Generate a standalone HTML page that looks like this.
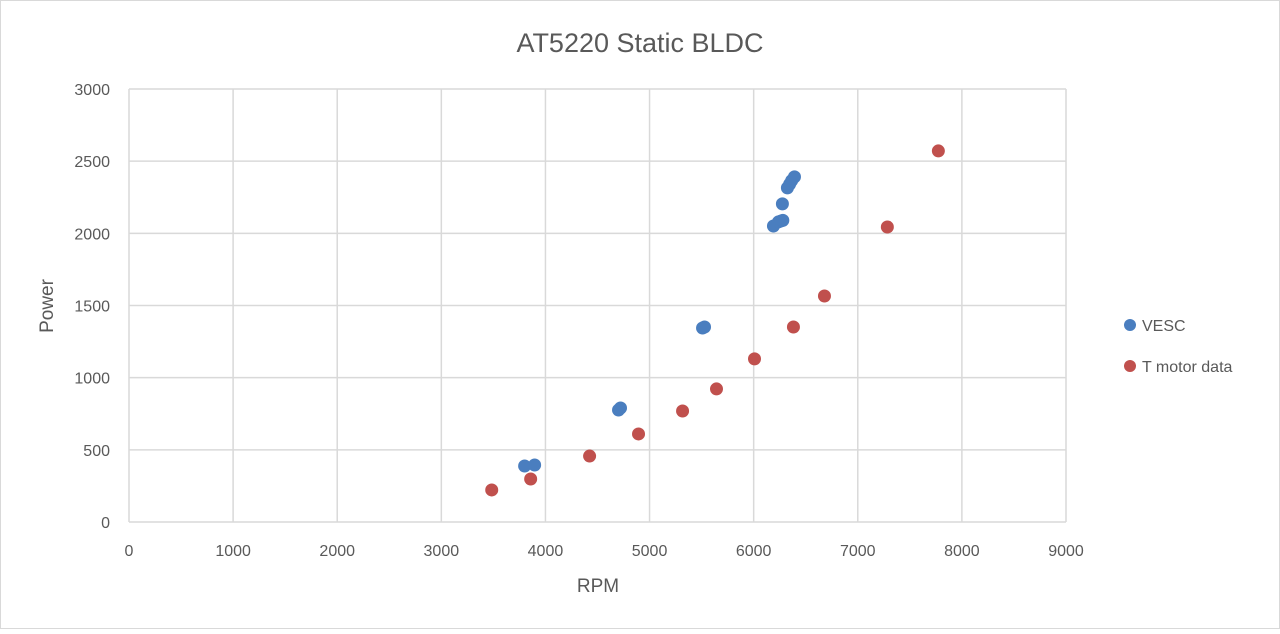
<!DOCTYPE html>
<html><head><meta charset="utf-8"><style>
body{margin:0;background:#fff;font-family:"Liberation Sans",sans-serif}
svg text{font-family:"Liberation Sans",sans-serif;fill:#595959}
</style></head><body>
<svg width="1280" height="629" viewBox="0 0 1280 629">
<rect x="0.5" y="0.5" width="1279" height="628" fill="#fff" stroke="#d9d9d9"/>
<text x="640" y="52" text-anchor="middle" font-size="27">AT5220 Static BLDC</text>
<g id="grid"></g><g id="ticks"></g><g id="pts"></g>
<text x="598" y="592" text-anchor="middle" font-size="19">RPM</text>
<text transform="translate(53,306) rotate(-90)" text-anchor="middle" font-size="19">Power</text>
<g>
<circle cx="1130" cy="325" r="6" fill="#4a7ebf"/>
<text x="1142" y="331" font-size="16">VESC</text>
<circle cx="1130" cy="366" r="6" fill="#c0504d"/>
<text x="1142" y="372" font-size="16">T motor data</text>
</g>
</svg>
<script>
const xTicks=[0,1000,2000,3000,4000,5000,6000,7000,8000,9000];
const yTicks=[0,500,1000,1500,2000,2500,3000];
const vescRpm=[3800,3896,4702,4721,5509,5528,6190,6238,6260,6280,6276,6324,6345,6365,6392];
const vescPower=[388,395,776,790,1344,1351,2051,2079,2085,2090,2204,2315,2340,2365,2391];
const tRpm=[3484,3858,4424,4894,5317,5643,6008,6382,6680,7284,7774];
const tPower=[222,298,457,610,769,922,1130,1351,1566,2044,2571];
const X0=129,X1=1066,Y0=522,Y1=89;
const sx=v=>X0+(v-0)/9000*(X1-X0), sy=v=>Y0-(v/3000)*(Y0-Y1);
const NS="http://www.w3.org/2000/svg";
const mk=(t,a,p)=>{const e=document.createElementNS(NS,t);for(const k in a)e.setAttribute(k,a[k]);document.getElementById(p).appendChild(e);return e;};
xTicks.forEach(v=>{
 const l=mk('line',{x1:sx(v),x2:sx(v),y1:Y1,y2:Y0,stroke:'#d9d9d9','stroke-width':1.5},'grid');
 
 
 const t=mk('text',{x:sx(v),y:556,'text-anchor':'middle','font-size':16},'ticks');t.textContent=v;
 
 
});
yTicks.forEach(v=>{
 const l=mk('line',{x1:X0,x2:X1,y1:sy(v),y2:sy(v),stroke:'#d9d9d9','stroke-width':1.5},'grid');
 
 
 const t=mk('text',{x:110,y:sy(v)+6,'text-anchor':'end','font-size':16},'ticks');t.textContent=v;
 
 
});
tRpm.forEach((v,i)=>{
 const c=mk('circle',{cx:sx(v),cy:sy(tPower[i]),r:6.5,fill:'#c0504d'},'pts');
 
 
});
vescRpm.forEach((v,i)=>{
 const c=mk('circle',{cx:sx(v),cy:sy(vescPower[i]),r:6.5,fill:'#4a7ebf'},'pts');
 
 
});
</script>
</body></html>
